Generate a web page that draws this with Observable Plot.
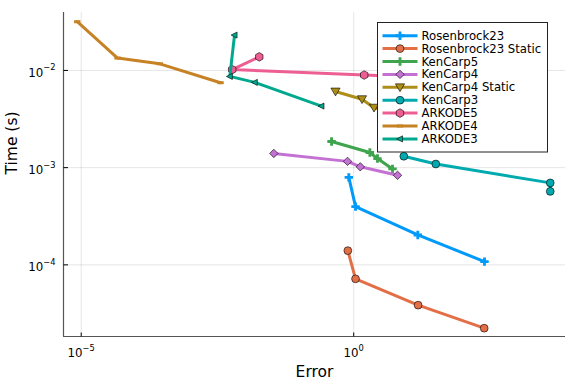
<!DOCTYPE html>
<html><head><meta charset="utf-8">
<script src="https://cdn.jsdelivr.net/npm/d3@7"></script>
<script src="https://cdn.jsdelivr.net/npm/@observablehq/plot@0.6"></script>
<style>body{margin:0;background:#fff}</style>
</head><body><div id="chart"></div>
<script>
// Series names in legend order
const seriesNames = ["Rosenbrock23","Rosenbrock23 Static","KenCarp5","KenCarp4","KenCarp4 Static","KenCarp3","ARKODE5","ARKODE4","ARKODE3"];
const seriesColors = ["#009AFA","#E36F47","#3EA44E","#C371D2","#AC8E18","#00AAAE","#ED5E93","#C68225","#00A98D"];

// Error values per series
const errRosenbrock23 = [0.813, 1.08, 15.0, 251];
const errRosenbrock23Static = [0.78, 1.08, 15.2, 248];
const errKenCarp5 = [0.392, 1.98, 2.73, 5.15];
const errKenCarp4 = [0.0342, 0.77, 1.32, 6.37];
const errKenCarp4Static = [0.463, 1.42, 2.36, 6.0];
const errKenCarp3 = [8.3, 32.1, 4040, 4040];
const errARKODE5 = [0.0185, 0.0059, 1.56, 30];
const errARKODE4 = [8.45e-6, 4.64e-5, 2.77e-4, 3.60e-3];
const errARKODE3 = [6.50e-3, 5.33e-3, 1.53e-2, 0.256];

// Time values per series (s)
const timeRosenbrock23 = [7.94e-4, 3.97e-4, 2.03e-4, 1.08e-4];
const timeRosenbrock23Static = [1.40e-4, 7.18e-5, 3.85e-5, 2.23e-5];
const timeKenCarp5 = [1.86e-3, 1.43e-3, 1.24e-3, 9.70e-4];
const timeKenCarp4 = [1.40e-3, 1.16e-3, 1.02e-3, 8.34e-4];
const timeKenCarp4Static = [6.07e-3, 5.06e-3, 4.14e-3, 3.7e-3];
const timeKenCarp3 = [1.31e-3, 1.09e-3, 6.97e-4, 5.70e-4];
const timeARKODE5 = [1.38e-2, 1.02e-2, 8.97e-3, 8.4e-3];
const timeARKODE4 = [3.17e-2, 1.34e-2, 1.17e-2, 7.48e-3];
const timeARKODE3 = [2.31e-2, 8.68e-3, 7.53e-3, 4.30e-3];

const xTicks = [1e-5, 1];
const yTicks = [1e-4, 1e-3, 1e-2];
const xDomain = [10 ** -5.325, 10 ** 3.886];
const yDomain = [10 ** -4.737, 10 ** -1.404];

const errs = [errRosenbrock23, errRosenbrock23Static, errKenCarp5, errKenCarp4, errKenCarp4Static, errKenCarp3, errARKODE5, errARKODE4, errARKODE3];
const times = [timeRosenbrock23, timeRosenbrock23Static, timeKenCarp5, timeKenCarp4, timeKenCarp4Static, timeKenCarp3, timeARKODE5, timeARKODE4, timeARKODE3];

// symbols
function sym(f) { return {draw(ctx, size) { f(ctx, Math.sqrt(size / Math.PI)); }}; }
function poly(ctx, pts) { ctx.moveTo(pts[0][0], pts[0][1]); for (let i = 1; i < pts.length; i++) ctx.lineTo(pts[i][0], pts[i][1]); ctx.closePath(); }
const symCircle = sym((c, r) => { c.moveTo(r, 0); c.arc(0, 0, r, 0, 2 * Math.PI); });
const symCross = sym((c, r) => { const t = r * 0.34; poly(c, [[-t,-r],[t,-r],[t,-t],[r,-t],[r,t],[t,t],[t,r],[-t,r],[-t,t],[-r,t],[-r,-t],[-t,-t]]); });
const symDiamond = sym((c, r) => poly(c, [[0,-r],[r,0],[0,r],[-r,0]]));
const symDTri = sym((c, r) => poly(c, [[-r,-r*0.75],[r,-r*0.75],[0,r*0.95]]));
const symHex = sym((c, r) => { const p = []; for (let i = 0; i < 6; i++) { const a = Math.PI / 2 + i * Math.PI / 3; p.push([r * Math.cos(a), r * Math.sin(a)]); } poly(c, p); });
const symLTri = sym((c, r) => poly(c, [[-r,0],[r*0.75,-r*0.9],[r*0.75,r*0.9]]));
const symHLine = sym((c, r) => { c.moveTo(-r, 0); c.lineTo(r, 0); });
const symVTick = sym((c, r) => { c.moveTo(0, 0); c.lineTo(0, -r); });
const symHTick = sym((c, r) => { c.moveTo(0, 0); c.lineTo(r, 0); });

const seriesSym = [
  {s: symCross, r: 4.2, outline: false},
  {s: symCircle, r: 3.9, outline: true},
  {s: symCross, r: 4.2, outline: false},
  {s: symDiamond, r: 4.2, outline: true},
  {s: symDTri, r: 4.6, outline: true},
  {s: symCircle, r: 3.9, outline: true},
  {s: symHex, r: 4.3, outline: true},
  {s: symHLine, r: 3.2, line: true},
  {s: symLTri, r: 3.4, outline: true}
];

const fmt = d => "10^" + Math.round(Math.log10(d));

const table = seriesNames.map((name, i) => errs[i].map((e, j) => ({series: name, err: e, time: times[i][j]})));

function dotMark(i) {
  const m = seriesSym[i], col = seriesColors[i];
  if (m.line) return Plot.dot(table[i], {x: "err", y: "time", symbol: m.s, r: m.r, fill: "none", stroke: col, strokeWidth: 3});
  if (!m.outline) return Plot.dot(table[i], {x: "err", y: "time", symbol: m.s, r: m.r, fill: col, stroke: "none"});
  return Plot.dot(table[i], {x: "err", y: "time", symbol: m.s, r: m.r, fill: col, stroke: "#000", strokeOpacity: 0.75, strokeWidth: 0.8});
}

const plot = Plot.plot({
  width: 576, height: 384,
  marginLeft: 63, marginRight: 11, marginTop: 12, marginBottom: 48,
  style: {fontFamily: "DejaVu Sans", fontSize: "11.8px", background: "#fff", color: "#000"},
  x: {type: "log", domain: xDomain},
  y: {type: "log", domain: yDomain},
  marks: [
    Plot.gridX(xTicks, {stroke: "#000", strokeOpacity: 0.1, strokeWidth: 1}),
    Plot.gridY(yTicks, {stroke: "#000", strokeOpacity: 0.1, strokeWidth: 1}),
    Plot.ruleX([xDomain[0]], {stroke: "#555", strokeWidth: 1.2}),
    Plot.ruleY([yDomain[0]], {stroke: "#555", strokeWidth: 1.2}),
    Plot.dot(xTicks, {x: d => d, frameAnchor: "bottom", symbol: symVTick, r: 4, stroke: "#000", strokeWidth: 1}),
    Plot.dot(yTicks, {y: d => d, frameAnchor: "left", symbol: symHTick, r: 4.5, stroke: "#000", strokeWidth: 1}),
    Plot.axisX(xTicks, {tickSize: 0, tickPadding: 12, tickFormat: fmt, fontSize: 11.8, label: null}),
    Plot.axisY(yTicks, {tickSize: 0, tickPadding: 8, dy: 2.5, tickFormat: fmt, fontSize: 11.8, label: null}),
    Plot.text(["Error"], {frameAnchor: "bottom", lineAnchor: "middle", dy: 35.7, fontSize: 15.5, text: d => d}),
    Plot.text(["Time (s)"], {frameAnchor: "left", lineAnchor: "middle", dx: -51, rotate: -90, fontSize: 15.5, text: d => d}),
    ...seriesNames.flatMap((name, i) => [
      Plot.line(table[i], {x: "err", y: "time", stroke: seriesColors[i], strokeWidth: 3}),
      dotMark(i)
    ])
  ]
});

const svg = d3.select(plot);
// superscript exponents in tick labels
svg.selectAll("text").each(function() {
  const t = d3.select(this);
  const m = /^10\^(-?\d+)$/.exec(t.text());
  if (!m) return;
  t.text("10");
  t.append("tspan").attr("dy", -6.3).attr("font-size", 8.3).text(m[1].replace("-", "\u2212"));
});

// Legend overlay
const lg = svg.append("g").attr("font-family", "DejaVu Sans").attr("font-size", 11.7).attr("text-anchor", "start");
const lx = 377.5, ly = 22.5, lw = 170, lh = 129.5, rowH = 12.9, row0 = 35.7;
lg.append("rect").attr("x", lx).attr("y", ly).attr("width", lw).attr("height", lh).attr("fill", "#fff").attr("stroke", "#222").attr("stroke-width", 1);
seriesNames.forEach((name, i) => {
  const y = row0 + i * rowH;
  const m = seriesSym[i], col = seriesColors[i];
  lg.append("line").attr("x1", 382.5).attr("x2", 417.5).attr("y1", y).attr("y2", y).attr("stroke", col).attr("stroke-width", 3);
  const p = lg.append("path").attr("transform", `translate(400,${y})`).attr("d", d3.symbol().type(m.s).size(Math.PI * m.r * m.r)());
  if (m.line) p.attr("fill", "none").attr("stroke", col).attr("stroke-width", 3);
  else if (!m.outline) p.attr("fill", col);
  else p.attr("fill", col).attr("stroke", "#000").attr("stroke-opacity", 0.75).attr("stroke-width", 0.8);
  lg.append("text").attr("x", 421.5).attr("y", y).attr("dy", "0.35em").attr("text-anchor", "start").text(name);
});

document.getElementById("chart").appendChild(plot);
</script>
</body></html>
